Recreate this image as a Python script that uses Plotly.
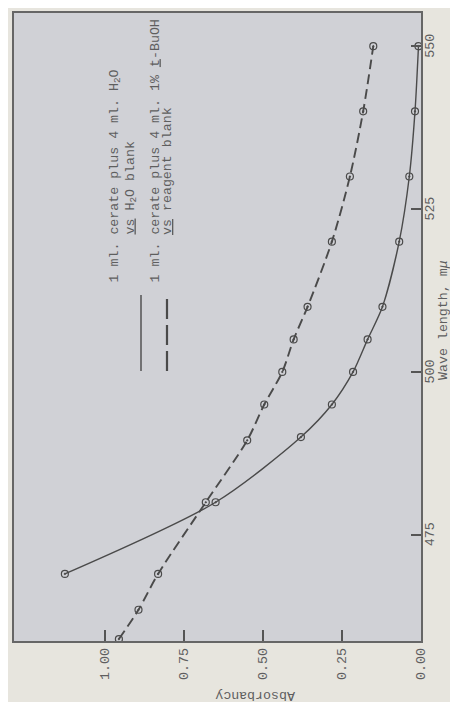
import plotly.graph_objects as go

# ---- data ----
wl_h2o = [469, 480, 490, 495, 500, 505, 510, 520, 530, 540, 550]
abs_h2o = [1.127, 0.650, 0.380, 0.282, 0.215, 0.169, 0.122, 0.069, 0.037, 0.019, 0.008]

wl_reag = [459, 463.5, 469, 480, 489.5, 495, 500, 505, 510, 520, 530, 540, 550]
abs_reag = [0.956, 0.894, 0.832, 0.681, 0.550, 0.496, 0.439, 0.403, 0.359, 0.282, 0.225, 0.183, 0.151]

abs_ticks = [0.0, 0.25, 0.5, 0.75, 1.0]
abs_ticktext = ["0.00", "0.25", "0.50", "0.75", "1.00"]
wl_ticks = [475, 500, 525, 550]
wl_ticktext = ["475", "500", "525", "550"]

legend_lines = [
    "1 ml. cerate plus 4 ml. H<sub>2</sub>O",
    "<u>vs</u> H<sub>2</sub>O blank",
    "1 ml. cerate plus 4 ml. 1% <u>t</u>-BuOH",
    "<u>vs</u> reagent blank",
]

# ---- layout geometry (pixels) ----
W, H = 458, 702
L, R, T, B = 6, 413, 5, 633
FONT = "Liberation Mono"
INK = "#4a4a4a"
TXT = "#5e5e5e"
FS = 13.3
SH = 6  # compensation for rotated annotation placement


def px(xp, yp):
    return (xp - L) / (R - L), (B - yp) / (B - T)


fig = go.Figure()
fig.add_trace(go.Scatter(
    x=abs_h2o, y=wl_h2o, mode="lines+markers",
    line=dict(color=INK, width=1.4, shape="spline", smoothing=0.8),
    marker=dict(symbol="circle-open-dot", size=7, color=INK, line=dict(width=1.2)),
    showlegend=False,
))
fig.add_trace(go.Scatter(
    x=abs_reag, y=wl_reag, mode="lines+markers",
    line=dict(color=INK, width=1.9, dash="10px,5px", shape="spline", smoothing=0.8),
    marker=dict(symbol="circle-open-dot", size=7, color=INK, line=dict(width=1.2)),
    showlegend=False,
))

# legend (rotated text)
leg_x = [113, 129, 153, 165]
leg_y = [277, 229, 277, 229]
for txt, xx, yy in zip(legend_lines, leg_x, leg_y):
    ax, ay = px(xx - SH, yy)
    fig.add_annotation(x=ax, y=ay, xref="paper", yref="paper", text=txt,
                       textangle=-90, showarrow=False, xanchor="center", yanchor="bottom",
                       font=dict(family=FONT, size=FS, color=TXT))
# legend samples
for xx, dash, w in [(133, "solid", 1.4), (159, "20px,6px", 2.2)]:
    x0, y0 = px(xx, 363)
    x1, y1 = px(xx, 287)
    fig.add_shape(type="line", xref="paper", yref="paper", x0=x0, x1=x1, y0=y0, y1=y1,
                  line=dict(color=INK, width=w, dash=dash))

# wavelength tick labels (right side, rotated)
lx, _ = px(419 - SH, 0)
for v, t in zip(wl_ticks, wl_ticktext):
    fig.add_annotation(x=lx, y=v, xref="paper", yref="y", text=t, textangle=-90,
                       showarrow=False, xanchor="left", yanchor="middle",
                       font=dict(family=FONT, size=FS, color=TXT))

# y title (right, rotated)
tx, ty = px(442 - SH, 312)
fig.add_annotation(x=tx, y=ty, xref="paper", yref="paper", text="Wave length, m<i>μ</i>",
                   textangle=-90, showarrow=False, xanchor="center", yanchor="middle",
                   font=dict(family=FONT, size=FS, color=TXT))

# x-axis title rotated 180
axx, axy = px(247, 694 - SH)
fig.add_annotation(x=axx, y=axy, xref="paper", yref="paper", text="Absorbancy",
                   textangle=180, showarrow=False, xanchor="center", yanchor="middle",
                   font=dict(family=FONT, size=FS, color=TXT))

fig.update_layout(
    width=W, height=H, template="none",
    margin=dict(l=L, r=W - R, t=T, b=H - B, autoexpand=False),
    paper_bgcolor="#e7e5de", plot_bgcolor="#d0d1d6",
    font=dict(family=FONT, size=FS, color=TXT),
    xaxis=dict(range=[(R - L) / 316.0, 0], tickvals=abs_ticks, ticktext=abs_ticktext,
               tickangle=-90, ticks="inside", ticklen=11, tickwidth=1.5, tickcolor="#555",
               showline=True, linecolor="#666", linewidth=1.5, mirror=True,
               showgrid=False, zeroline=False, automargin=False,
               tickfont=dict(family=FONT, size=FS, color=TXT)),
    yaxis=dict(range=[458.7, 555.1], side="right", tickvals=wl_ticks,
               showticklabels=False,
               ticks="inside", ticklen=10, tickwidth=1.5, tickcolor="#555",
               showline=True, linecolor="#666", linewidth=1.5, mirror=True,
               showgrid=False, zeroline=False, automargin=False),
)

fig.write_html("out.html")
